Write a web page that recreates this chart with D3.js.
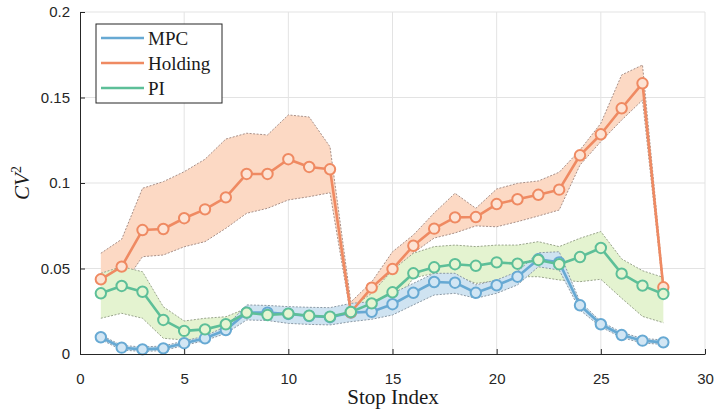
<!DOCTYPE html>
<html>
<head>
<meta charset="utf-8">
<script src="https://cdn.jsdelivr.net/npm/d3@7"></script>
<style>
  body { margin: 0; background: #fff; }
  .tick-label { font-family: "Liberation Sans", Arial, sans-serif; font-size: 15px; fill: #262626; }
  .serif { font-family: "Liberation Serif", "DejaVu Serif", serif; fill: #1a1a1a; }
</style>
</head>
<body>
<svg id="chart" width="717" height="414"></svg>
<script>
// stop index (x)
const stops = [1,2,3,4,5,6,7,8,9,10,11,12,13,14,15,16,17,18,19,20,21,22,23,24,25,26,27,28]

// MPC
const mpcMean  = [0.0098,0.0037,0.0027,0.0033,0.0063,0.0092,0.0140,0.0242,0.0242,0.0234,0.0222,0.0215,0.0242,0.0247,0.0291,0.0358,0.0421,0.0417,0.0358,0.0402,0.0452,0.0554,0.0536,0.0285,0.0174,0.0111,0.0078,0.0068]
const mpcUpper = [0.0111,0.0050,0.0041,0.0047,0.0076,0.0105,0.0161,0.0287,0.0284,0.0277,0.0273,0.0271,0.0296,0.0306,0.0355,0.0413,0.0472,0.0472,0.0404,0.0433,0.0482,0.0592,0.0598,0.0306,0.0190,0.0126,0.0091,0.0082]
const mpcLower = [0.0085,0.0023,0.0015,0.0020,0.0050,0.0079,0.0120,0.0199,0.0196,0.0179,0.0173,0.0170,0.0189,0.0203,0.0228,0.0287,0.0345,0.0355,0.0326,0.0355,0.0404,0.0510,0.0491,0.0257,0.0158,0.0096,0.0064,0.0056]

// Holding
const holdMean  = [0.0437,0.0511,0.0725,0.0731,0.0794,0.0846,0.0916,0.1053,0.1053,0.1139,0.1094,0.1080,0.0244,0.0388,0.0497,0.0633,0.0733,0.0799,0.0801,0.0877,0.0905,0.0931,0.0961,0.1162,0.1285,0.1437,0.1583,0.0390]
const holdUpper = [0.0589,0.0671,0.0969,0.1008,0.1066,0.1139,0.1257,0.1291,0.1281,0.1398,0.1386,0.1212,0.0304,0.0421,0.0598,0.0696,0.0825,0.0940,0.0852,0.0965,0.0998,0.1012,0.1063,0.1193,0.1349,0.1632,0.1690,0.0415]
const holdLower = [0.0355,0.0394,0.0569,0.0579,0.0627,0.0657,0.0735,0.0823,0.0852,0.0901,0.0920,0.0943,0.0222,0.0327,0.0444,0.0591,0.0678,0.0708,0.0749,0.0744,0.0774,0.0807,0.0842,0.1105,0.1242,0.1368,0.1485,0.0363]

// PI
const piMean  = [0.0355,0.0398,0.0364,0.0199,0.0135,0.0144,0.0174,0.0242,0.0228,0.0236,0.0224,0.0218,0.0246,0.0296,0.0361,0.0472,0.0507,0.0525,0.0516,0.0536,0.0528,0.0550,0.0525,0.0567,0.0620,0.0470,0.0400,0.0351]
const piUpper = [0.0472,0.0511,0.0481,0.0276,0.0193,0.0209,0.0218,0.0267,0.0254,0.0260,0.0249,0.0243,0.0269,0.0355,0.0491,0.0589,0.0628,0.0637,0.0628,0.0637,0.0637,0.0657,0.0628,0.0677,0.0716,0.0556,0.0487,0.0448]
const piLower = [0.0209,0.0238,0.0209,0.0092,0.0082,0.0092,0.0121,0.0218,0.0208,0.0213,0.0202,0.0196,0.0222,0.0240,0.0277,0.0444,0.0472,0.0462,0.0413,0.0428,0.0452,0.0452,0.0433,0.0423,0.0437,0.0326,0.0220,0.0183]

const xTicks = [0,5,10,15,20,25,30]
const yTicks = [0,0.05,0.1,0.15,0.2]
const seriesNames = ["MPC","Holding","PI"]

const svg = d3.select("#chart")
let xScale = d3.scaleLinear().domain([0,30]).range([80,705])
let yScale = d3.scaleLinear().domain([0,0.2]).range([354,12])

const series = [
    {name:"Holding", mean:holdMean, up:holdUpper, lo:holdLower, line:"#ef8a62", band:"#fcd9c4", mfill:"#fde3d4", edge:"#a89088"},
    {name:"PI", mean:piMean, up:piUpper, lo:piLower, line:"#5dbf98", band:"#e4f3d0", mfill:"#e6f5d2", edge:"#9aa58c"},
    {name:"MPC", mean:mpcMean, up:mpcUpper, lo:mpcLower, line:"#67a9d3", band:"#cfe3f1", mfill:"#d2e6f4", edge:"#8c9aa6"}
]

// grid
svg.append("g").selectAll("line").data(xTicks.slice(1)).enter().append("line")
    .attr("x1", d => xScale(d)).attr("x2", d => xScale(d))
    .attr("y1", yScale(0)).attr("y2", yScale(0.2))
    .attr("stroke","#e3e3e3").attr("stroke-width",1)
svg.append("g").selectAll("line").data(yTicks.slice(1)).enter().append("line")
    .attr("y1", d => yScale(d)).attr("y2", d => yScale(d))
    .attr("x1", xScale(0)).attr("x2", xScale(30))
    .attr("stroke","#e3e3e3").attr("stroke-width",1)

// bands
let area = (s) => d3.area().x((d,i) => xScale(stops[i])).y0((d,i) => yScale(s.lo[i])).y1((d,i) => yScale(s.up[i]))
series.forEach(function(s){
    svg.append("path").datum(s.mean).attr("d", area(s)).attr("fill", s.band).attr("stroke","none")
    ;[s.up, s.lo].forEach(function(b){
        svg.append("path").datum(b)
            .attr("d", d3.line().x((d,i) => xScale(stops[i])).y(d => yScale(d)))
            .attr("fill","none").attr("stroke", s.edge).attr("stroke-width",1)
            .attr("stroke-dasharray","2,1.5")
    })
})

// lines + markers, in legend order
let lineOrder = ["MPC","Holding","PI"]
lineOrder.forEach(function(n){
    let s = series.find(d => d.name === n)
    svg.append("path").datum(s.mean)
        .attr("d", d3.line().x((d,i) => xScale(stops[i])).y(d => yScale(d)))
        .attr("fill","none").attr("stroke", s.line).attr("stroke-width",2.6)
        .attr("stroke-linejoin","round")
    svg.append("g").selectAll("circle").data(s.mean).enter().append("circle")
        .attr("cx",(d,i) => xScale(stops[i])).attr("cy", d => yScale(d))
        .attr("r",5.2).attr("fill", s.mfill).attr("stroke", s.line).attr("stroke-width",2)
})

// axes
let x_axis = d3.axisBottom(xScale).tickValues(xTicks).tickSizeInner(-5).tickSizeOuter(0).tickPadding(19)
let y_axis = d3.axisLeft(yScale).tickValues(yTicks).tickSizeInner(-5).tickSizeOuter(0).tickPadding(10)
    .tickFormat(d => d === 0 ? "0" : String(d))
let gx = svg.append("g").attr("transform",`translate(0,${yScale(0)})`).call(x_axis)
let gy = svg.append("g").attr("transform",`translate(${xScale(0)},0)`).call(y_axis)
;[gx,gy].forEach(function(g){
    g.select(".domain").attr("stroke","#262626").attr("stroke-width",1)
    g.selectAll(".tick line").attr("stroke","#262626")
    g.selectAll(".tick text").attr("class","tick-label").attr("font-family",null).attr("font-size",null)
})

// labels
svg.append("text").attr("class","serif").attr("x",393).attr("y",404)
    .attr("text-anchor","middle").style("font-size","21px").text("Stop Index")

let yl = svg.append("text").attr("class","serif")
    .attr("transform","translate(29,183) rotate(-90)")
    .attr("text-anchor","middle").style("font-size","21px")
yl.append("tspan").style("font-style","italic").text("CV")
yl.append("tspan").attr("dy",-8).style("font-size","14px").text("2")

// legend
let lg = svg.append("g").attr("transform","translate(96,24)")
lg.append("rect").attr("width",126).attr("height",79)
    .attr("fill","#fff").attr("stroke","#262626").attr("stroke-width",1)
seriesNames.forEach(function(n,i){
    let s = series.find(d => d.name === n)
    let yy = 14 + i*25
    lg.append("line").attr("x1",5).attr("x2",48).attr("y1",yy).attr("y2",yy)
        .attr("stroke", s.line).attr("stroke-width",2.6)
    lg.append("text").attr("class","serif").attr("x",52).attr("y",yy+6.5)
        .style("font-size","19px").text(n)
})
</script>
</body>
</html>
